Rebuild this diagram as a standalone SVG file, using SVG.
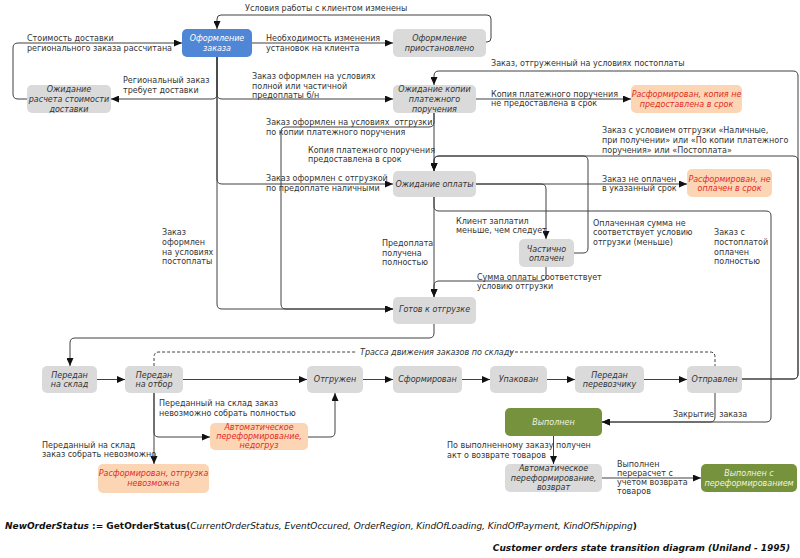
<svg xmlns="http://www.w3.org/2000/svg" width="800" height="558" viewBox="0 0 800 558">
<style>
text{font-family:"DejaVu Sans","Liberation Sans",sans-serif;font-size:8px;fill:#333}
.nt{font-style:italic;text-anchor:middle}
.g rect{fill:#dadada}
.o rect{fill:#fcd5b5}
.o text{fill:#e32b24}
.b rect{fill:#4f86d6}
.b text{fill:#ffffff}
.gr rect{fill:#76923c}
.gr text{fill:#eef3e0}
.c path{fill:none;stroke:#404040;stroke-width:1}
.c .a{marker-end:url(#ah)}
.c .d{stroke-dasharray:3,2}
.f{font-size:9px;fill:#111}
</style>
<defs>
<marker id="ah" markerUnits="userSpaceOnUse" markerWidth="8" markerHeight="7" refX="8" refY="3.5" orient="auto">
<path d="M0,0 L8,3.5 L0,7 z" fill="#111"/>
</marker>
</defs>
<rect width="800" height="558" fill="#fff"/>

<g class="c" id="connectors">
<path class="a" d="M486,42 H487 Q491,42 491,38 V19 Q491,15 487,15 H221 Q217,15 217,19 V29"/>
<path class="a" d="M252,43 H393"/>
<path class="a" d="M27,99 H18 Q13,99 13,94 V48 Q13,43 18,43 H182"/>
<path class="a" d="M217,57 V94 Q217,99 212,99 H111"/>
<path class="a" d="M217,57 V94 Q217,99 222,99 H393"/>
<path class="a" d="M217,57 V179 Q217,184 222,184 H393"/>
<path class="a" d="M217,57 V304 Q217,309 222,309 H393"/>
<path class="a" d="M434,113 V122 Q434,127 429,127 H286 Q281,127 281,132 V304 Q281,309 286,309 H393"/>
<path class="a" d="M434,113 V171"/>
<path class="a" d="M476,99 H631"/>
<path class="a" d="M742,379 H793 Q798,379 798,374 V76 Q798,71 793,71 H439 Q434,71 434,76 V85"/>
<path class="a" d="M742,379 H793 Q798,379 798,374 V161 Q798,156 793,156 H439 Q434,156 434,161 V171"/>
<path class="a" d="M574,253 H583 Q588,253 588,248 V161 Q588,156 583,156 H439 Q434,156 434,161 V171"/>
<path class="a" d="M476,184 H687"/>
<path class="a" d="M476,184 H541 Q546,184 546,189 V239"/>
<path class="a" d="M434,197 V206 Q434,211 439,211 H766 Q771,211 771,216 V417 Q771,422 766,422 H602"/>
<path class="a" d="M434,197 V297"/>
<path class="a" d="M546,267 V276 Q546,281 541,281 H439 Q434,281 434,286 V297"/>
<path class="a" d="M434,324 V333 Q434,338 429,338 H75 Q70,338 70,343 V366"/>
<path class="a" d="M97,379.5 H125"/>
<path class="a" d="M183,379.5 H307"/>
<path class="a" d="M363,379.5 H393"/>
<path class="a" d="M462,379.5 H490"/>
<path class="a" d="M547,379.5 H575"/>
<path class="a" d="M644,379.5 H687"/>
<path class="a" d="M154,393 V432 Q154,437 159,437 H210"/>
<path class="a" d="M154,393 V464"/>
<path class="a" d="M308,437 H330 Q335,437 335,432 V393"/>
<path class="a" d="M715,393 V417 Q715,422 710,422 H602"/>
<path class="a" d="M553.5,436 V464"/>
<path class="a" d="M602,478 H701"/>
<path class="d" d="M154,366 V357 Q154,352 159,352 H357 M510,352 H710 Q715,352 715,357 V366"/>
</g>

<g id="labels">
<text x="245" y="10.5">Условия работы с клиентом изменены</text>
<text x="266" y="41">Необходимость изменения<tspan x="266" y="51">установок на клиента</tspan></text>
<text x="27" y="41">Стоимость доставки<tspan x="27" y="51">регионального заказа рассчитана</tspan></text>
<text x="123" y="83">Региональный заказ<tspan x="123" y="93">требует доставки</tspan></text>
<text x="252" y="79">Заказ оформлен на условиях<tspan x="252" y="88.5">полной или частичной</tspan><tspan x="252" y="98">предоплаты б/н</tspan></text>
<text x="266" y="125" xml:space="preserve">Заказ оформлен на условиях  отгрузки<tspan x="266" y="135">по копии платежного поручения</tspan></text>
<text x="308" y="153">Копия платежного поручения<tspan x="308" y="162">предоставлена в срок</tspan></text>
<text x="491" y="97">Копия платежного поручения<tspan x="491" y="106">не предоставлена в срок</tspan></text>
<text x="491" y="66">Заказ, отгруженный на условиях постоплаты</text>
<text x="602" y="133">Заказ с условием отгрузки «Наличные,<tspan x="602" y="143">при получении» или «По копии платежного</tspan><tspan x="602" y="153">поручения» или «Постоплата»</tspan></text>
<text x="266" y="181">Заказ оформлен с отгрузкой<tspan x="266" y="191">по предоплате наличными</tspan></text>
<text x="602" y="182">Заказ не оплачен<tspan x="602" y="191">в указанный срок</tspan></text>
<text x="456" y="224">Клиент заплатил<tspan x="456" y="233">меньше, чем следует</tspan></text>
<text x="593" y="226">Оплаченная сумма не<tspan x="593" y="235">соответствует условию</tspan><tspan x="593" y="245">отгрузки (меньше)</tspan></text>
<text x="714" y="235">Заказ с<tspan x="714" y="245">постоплатой</tspan><tspan x="714" y="254.5">оплачен</tspan><tspan x="714" y="264">полностью</tspan></text>
<text x="162" y="235">Заказ<tspan x="162" y="245">оформлен</tspan><tspan x="162" y="254.5">на условиях</tspan><tspan x="162" y="264">постоплаты</tspan></text>
<text x="382" y="246">Предоплата<tspan x="382" y="256">получена</tspan><tspan x="382" y="265">полностью</tspan></text>
<text x="477" y="280">Сумма оплаты соответствует<tspan x="477" y="289">условию отгрузки</tspan></text>
<text x="360" y="355" font-style="italic">Трасса движения заказов по складу</text>
<text x="159" y="406">Переданный на склад заказ<tspan x="159" y="416">невозможно собрать полностью</tspan></text>
<text x="42" y="448">Переданный на склад<tspan x="42" y="457">заказ собрать невозможно</tspan></text>
<text x="673" y="417" xml:space="preserve">Закрытие  заказа</text>
<text x="447" y="448">По выполненному заказу получен<tspan x="447" y="458">акт о возврате товаров</tspan></text>
<text x="617" y="467">Выполнен<tspan x="617" y="476">перерасчет с</tspan><tspan x="617" y="485">учетом возврата</tspan><tspan x="617" y="494">товаров</tspan></text>
</g>

<g id="n1" class="b"><rect x="182" y="29" width="70" height="28" rx="5"/><text class="nt" x="217" y="41">Оформление<tspan x="217" y="51">заказа</tspan></text></g>
<g id="n2" class="g"><rect x="393" y="29" width="93" height="28" rx="5"/><text class="nt" x="439.5" y="41">Оформление<tspan x="439.5" y="51">приостановлено</tspan></text></g>
<g id="n3" class="g"><rect x="27" y="85" width="84" height="28" rx="5"/><text class="nt" x="69" y="92">Ожидание<tspan x="69" y="102">расчета стоимости</tspan><tspan x="69" y="112">доставки</tspan></text></g>
<g id="n4" class="g"><rect x="393" y="85" width="83" height="28" rx="5"/><text class="nt" x="434.5" y="92">Ожидание копии<tspan x="434.5" y="102">платежного</tspan><tspan x="434.5" y="112">поручения</tspan></text></g>
<g id="n5" class="o"><rect x="631" y="85" width="111" height="28" rx="5"/><text class="nt" x="686.5" y="97">Расформирован, копия не<tspan x="686.5" y="106.5">предоставлена в срок</tspan></text></g>
<g id="n6" class="g"><rect x="393" y="171" width="83" height="26" rx="5"/><text class="nt" x="434.5" y="187">Ожидание оплаты</text></g>
<g id="n7" class="o"><rect x="687" y="169" width="85" height="28" rx="5"/><text class="nt" x="729.5" y="182">Расформирован, не<tspan x="729.5" y="191">оплачен в срок</tspan></text></g>
<g id="n8" class="g"><rect x="519" y="239" width="55" height="28" rx="5"/><text class="nt" x="546.5" y="251.5">Частично<tspan x="546.5" y="261">оплачен</tspan></text></g>
<g id="n9" class="g"><rect x="393" y="297" width="83" height="27" rx="5"/><text class="nt" x="434.5" y="312">Готов к отгрузке</text></g>
<g id="n10" class="g"><rect x="42" y="366" width="55" height="27" rx="5"/><text class="nt" x="69.5" y="378">Передан<tspan x="69.5" y="387">на склад</tspan></text></g>
<g id="n11" class="g"><rect x="125" y="366" width="58" height="27" rx="5"/><text class="nt" x="154" y="378">Передан<tspan x="154" y="387">на отбор</tspan></text></g>
<g id="n12" class="g"><rect x="307" y="366" width="56" height="27" rx="5"/><text class="nt" x="335" y="382">Отгружен</text></g>
<g id="n13" class="g"><rect x="393" y="366" width="69" height="27" rx="5"/><text class="nt" x="427.5" y="382">Сформирован</text></g>
<g id="n14" class="g"><rect x="490" y="366" width="57" height="27" rx="5"/><text class="nt" x="518.5" y="382">Упакован</text></g>
<g id="n15" class="g"><rect x="575" y="366" width="69" height="27" rx="5"/><text class="nt" x="609.5" y="378">Передан<tspan x="609.5" y="387">перевозчику</tspan></text></g>
<g id="n16" class="g"><rect x="687" y="366" width="55" height="27" rx="5"/><text class="nt" x="714.5" y="382">Отправлен</text></g>
<g id="n17" class="gr"><rect x="505" y="408" width="97" height="28" rx="5"/><text class="nt" x="553.5" y="425">Выполнен</text></g>
<g id="n18" class="g"><rect x="505" y="464" width="97" height="28" rx="5"/><text class="nt" x="553.5" y="471">Автоматическое<tspan x="553.5" y="481">переформирование,</tspan><tspan x="553.5" y="490">возврат</tspan></text></g>
<g id="n19" class="gr"><rect x="701" y="464" width="96" height="28" rx="5"/><text class="nt" x="749" y="476">Выполнен с<tspan x="749" y="486">переформированием</tspan></text></g>
<g id="n20" class="o"><rect x="210" y="423" width="98" height="27" rx="5"/><text class="nt" x="259" y="430">Автоматическое<tspan x="259" y="439">переформирование,</tspan><tspan x="259" y="448">недогруз</tspan></text></g>
<g id="n21" class="o"><rect x="98" y="464" width="111" height="29" rx="5"/><text class="nt" x="153.5" y="476">Расформирован, отгрузка<tspan x="153.5" y="486">невозможна</tspan></text></g>

<g id="footer">
<text class="f" x="5" y="529"><tspan font-weight="bold" font-style="italic">NewOrderStatus</tspan><tspan font-weight="bold"> := GetOrderStatus(</tspan><tspan font-style="italic">CurrentOrderStatus, EventOccured, OrderRegion, KindOfLoading, KindOfPayment, KindOfShipping</tspan><tspan font-weight="bold">)</tspan></text>
<text class="f" x="790" y="551" text-anchor="end" font-weight="bold" font-style="italic">Customer orders state transition diagram (Uniland - 1995)</text>
</g>
</svg>
